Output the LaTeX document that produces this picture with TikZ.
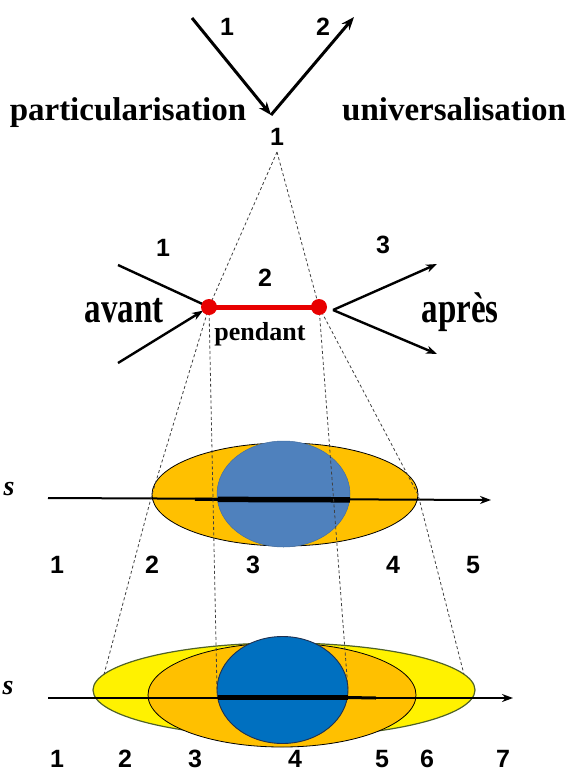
\documentclass[tikz,border=0pt]{standalone}
\usepackage{fontspec}
\setmainfont{Liberation Serif}
\newfontfamily\numfont{Liberation Sans}
\usetikzlibrary{arrows.meta,shapes.geometric}
\definecolor{goldfill}{HTML}{FFC000}
\definecolor{steelfill}{HTML}{4F81BD}
\definecolor{deepblue}{HTML}{0070C0}
\definecolor{navyline}{HTML}{1F3050}
\definecolor{olive}{HTML}{4F6228}
\definecolor{dotred}{HTML}{E80000}
\tikzset{
  bigword/.style={font=\fontsize{33}{36}\selectfont\bfseries, inner sep=0pt},
  midword/.style={font=\fontsize{33}{36}\selectfont\bfseries, inner sep=0pt, yscale=1.3},
  smallword/.style={font=\fontsize{26}{28}\selectfont\bfseries, inner sep=0pt},
  sword/.style={font=\fontsize{28}{30}\selectfont\bfseries\itshape, inner sep=0pt},
  num/.style={font=\numfont\fontsize{25}{27}\selectfont\bfseries, inner sep=0pt},
  bigarrow/.style={line width=3pt, -{Stealth[length=13pt,width=10pt]}},
  midarrow/.style={line width=2.4pt, -{Stealth[length=11pt,width=8pt]}},
  guide/.style={gray!50!black, line width=0.8pt, dash pattern=on 3pt off 2.5pt},
  oval/.style={ellipse, inner sep=0pt, outer sep=0pt},
  axisline/.style={line width=2pt, -{Stealth[length=11pt,width=8pt]}},
  reddot/.style={circle, fill=dotred, minimum size=16pt, inner sep=0pt},
}
\begin{document}
\begin{tikzpicture}[x=1pt,y=1pt]
\useasboundingbox (0,0) rectangle (569,-772);

% ---------- top ----------
\coordinate (a1) at (192,-18);
\coordinate (V) at (271,-115);
\coordinate (a2) at (354,-17);
\draw[bigarrow] (a1) -- (V);
\draw[bigarrow] (V) -- (a2);
\node[num] (t1) at (227,-27) {1};
\node[num] (t2) at (323,-27) {2};
\node[bigword, anchor=base] (part) at (128,-120) {particularisation};
\node[bigword, anchor=base] (univ) at (454,-120) {universalisation};
\node[num] (apex) at (277,-137) {1};
\coordinate (T) at (277,-152);

% ---------- middle ----------
\coordinate (L) at (209,-307);
\coordinate (R) at (319,-307);
\coordinate (u1) at (118,-265);
\coordinate (u2) at (118,-363);
\coordinate (Rs) at (333,-310);
\coordinate (r1) at (437,-264);
\coordinate (r2) at (437,-354);

% ---------- lower row 1 ----------
\node[oval, fill=goldfill, draw=black, line width=0.8pt, minimum width=266pt, minimum height=103pt] (o1) at (285,-494.5) {};
\node[oval, fill=steelfill, draw=steelfill!85!black, line width=0.5pt, minimum width=133pt, minimum height=106pt] (b1) at (283.5,-494) {};
\coordinate (ax1s) at (48,-498);
\coordinate (ax1e) at (491,-500);
\draw[axisline] (ax1s) -- (ax1e);
\coordinate (k1a) at (195,-499.3);
\coordinate (k1b) at (218,-499.4);
\coordinate (k1c) at (350,-499.8);
\draw[line width=3pt] (k1a) -- (k1b);
\draw[line width=5.5pt] (k1b) -- (k1c);

% ---------- lower row 2 ----------
\node[oval, fill=yellow, draw=olive, line width=1.2pt, minimum width=382pt, minimum height=94pt] (y2) at (284,-690) {};
\node[oval, fill=goldfill, draw=black, line width=0.8pt, minimum width=268pt, minimum height=104pt] (o2) at (282,-695) {};
\node[oval, fill=deepblue, draw=navyline, line width=0.9pt, minimum width=131pt, minimum height=107pt] (b2) at (282.5,-690) {};
\coordinate (ax2s) at (48,-698);
\coordinate (ax2e) at (513,-698);
\draw[axisline] (ax2s) -- (ax2e);
\coordinate (k2a) at (218,-697.5);
\coordinate (k2b) at (348,-697.5);
\coordinate (k2c) at (376,-698);
\draw[line width=5.5pt] (k2a) -- (k2b);
\draw[line width=3pt] (k2b) -- (k2c);

% ---------- guide lines ----------
\draw[guide] (T) -- (L);
\draw[guide] (T) -- (R);
\draw[guide] (L) -- (o1.west) -- (y2.175);
\draw[guide] (L) -- (b2.west);
\draw[guide] (R) -- (b2.east);
\draw[guide] (R) -- (o1.east) -- (y2.5);

% ---------- middle drawing ----------
\draw[line width=2.4pt] (u1) -- (L);
\draw[midarrow, shorten >=7pt] (u2) -- (L);
\draw[midarrow] (Rs) -- (r1);
\draw[midarrow] (Rs) -- (r2);
\draw[dotred, line width=5pt] (L) -- (R);
\node[reddot] (Ld) at (L) {};
\node[reddot] (Rd) at (R) {};
\node[num] (m1) at (163,-248) {1};
\node[num] (m2) at (265,-278) {2};
\node[num] (m3) at (383,-245) {3};
\node[midword, anchor=base] (avant) at (124,-322) {avant};
\node[midword, anchor=base] (apres) at (460,-322) {après};
\node[smallword, anchor=base] (pend) at (260,-340) {pendant};

% ---------- left cut words ----------
\node[sword, anchor=base] (s1) at (9,-495) {s};
\node[sword, anchor=base] (s2) at (8,-694) {s};

% ---------- numbers ----------
\foreach \n/\x in {1/57,2/152,3/253,4/393,5/473}
  \node[num] (p\n) at (\x,-565) {\n};
\foreach \n/\x in {1/57,2/125,3/195,4/295,5/382,6/427,7/503}
  \node[num] (q\n) at (\x,-759) {\n};
\end{tikzpicture}
\end{document}
